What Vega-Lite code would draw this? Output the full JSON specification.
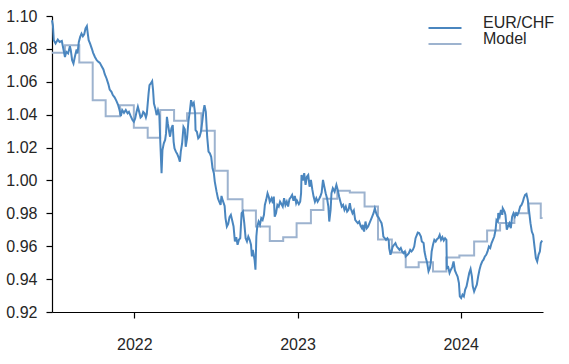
{
  "$schema": "https://vega.github.io/schema/vega-lite/v6.json",
  "width": 491,
  "height": 296,
  "autosize": {"type": "none"},
  "padding": {"left": 52, "top": 16, "right": 26, "bottom": 52},
  "background": "white",
  "config": {
    "view": {"stroke": null},
    "font": "Liberation Sans",
    "axis": {"grid": false, "domainColor": "#000", "tickColor": "#000", "labelColor": "#262626", "labelFont": "Liberation Sans", "labelFontSize": 16, "tickSize": 6, "domainWidth": 1.2, "tickWidth": 1.2, "title": null},
    "legend": {"labelFont": "Liberation Sans", "labelFontSize": 16, "labelColor": "#262626"}
  },
  "datasets": {
    "fx": [
{"d":"2021-07-01","v":1.0974},{"d":"2021-07-03","v":1.0944},{"d":"2021-07-05","v":1.0853},{"d":"2021-07-09","v":1.0833},{"d":"2021-07-14","v":1.0857},{"d":"2021-07-18","v":1.0842},{"d":"2021-07-23","v":1.0848},{"d":"2021-07-27","v":1.0792},{"d":"2021-07-30","v":1.0751},
{"d":"2021-08-02","v":1.0782},{"d":"2021-08-06","v":1.0772},{"d":"2021-08-10","v":1.0816},{"d":"2021-08-12","v":1.0792},{"d":"2021-08-15","v":1.0731},{"d":"2021-08-18","v":1.0711},{"d":"2021-08-21","v":1.0751},{"d":"2021-08-25","v":1.0796},{"d":"2021-08-27","v":1.0772},{"d":"2021-08-30","v":1.0842},
{"d":"2021-09-02","v":1.0873},{"d":"2021-09-05","v":1.0893},{"d":"2021-09-08","v":1.0877},{"d":"2021-09-11","v":1.0889},{"d":"2021-09-14","v":1.0924},{"d":"2021-09-17","v":1.0938},{"d":"2021-09-19","v":1.0893},{"d":"2021-09-21","v":1.0853},{"d":"2021-09-24","v":1.0833},{"d":"2021-09-28","v":1.0802},
{"d":"2021-10-01","v":1.0776},{"d":"2021-10-05","v":1.0751},{"d":"2021-10-09","v":1.0731},{"d":"2021-10-13","v":1.0721},{"d":"2021-10-16","v":1.0715},{"d":"2021-10-20","v":1.0695},{"d":"2021-10-24","v":1.0675},{"d":"2021-10-27","v":1.0646},{"d":"2021-10-31","v":1.0620},
{"d":"2021-11-04","v":1.0586},{"d":"2021-11-07","v":1.0553},{"d":"2021-11-11","v":1.0539},{"d":"2021-11-14","v":1.0519},{"d":"2021-11-18","v":1.0505},{"d":"2021-11-22","v":1.0484},{"d":"2021-11-26","v":1.0458},{"d":"2021-11-29","v":1.0428},
{"d":"2021-12-02","v":1.0391},{"d":"2021-12-05","v":1.0428},{"d":"2021-12-09","v":1.0411},{"d":"2021-12-13","v":1.0428},{"d":"2021-12-17","v":1.0408},{"d":"2021-12-20","v":1.0417},{"d":"2021-12-24","v":1.0391},{"d":"2021-12-28","v":1.0367},{"d":"2021-12-31","v":1.0357},
{"d":"2022-01-03","v":1.0377},{"d":"2022-01-06","v":1.0417},{"d":"2022-01-09","v":1.0448},{"d":"2022-01-12","v":1.0417},{"d":"2022-01-15","v":1.0383},{"d":"2022-01-18","v":1.0391},{"d":"2022-01-21","v":1.0417},{"d":"2022-01-24","v":1.0408},{"d":"2022-01-27","v":1.0383},{"d":"2022-01-29","v":1.0404},
{"d":"2022-02-02","v":1.0529},{"d":"2022-02-04","v":1.0580},{"d":"2022-02-07","v":1.0590},{"d":"2022-02-10","v":1.0604},{"d":"2022-02-12","v":1.0549},{"d":"2022-02-14","v":1.0468},{"d":"2022-02-17","v":1.0438},{"d":"2022-02-20","v":1.0397},{"d":"2022-02-23","v":1.0428},{"d":"2022-02-26","v":1.0397},{"d":"2022-02-28","v":1.0246},
{"d":"2022-03-03","v":1.0044},{"d":"2022-03-05","v":1.0185},{"d":"2022-03-08","v":1.0226},{"d":"2022-03-11","v":1.0246},{"d":"2022-03-13","v":1.0286},{"d":"2022-03-15","v":1.0387},{"d":"2022-03-17","v":1.0347},{"d":"2022-03-20","v":1.0296},{"d":"2022-03-22","v":1.0266},{"d":"2022-03-25","v":1.0317},{"d":"2022-03-28","v":1.0337},{"d":"2022-03-30","v":1.0235},
{"d":"2022-04-01","v":1.0195},{"d":"2022-04-04","v":1.0175},{"d":"2022-04-07","v":1.0161},{"d":"2022-04-10","v":1.0141},{"d":"2022-04-13","v":1.0114},{"d":"2022-04-15","v":1.0175},{"d":"2022-04-18","v":1.0226},{"d":"2022-04-21","v":1.0326},{"d":"2022-04-24","v":1.0311},{"d":"2022-04-26","v":1.0205},{"d":"2022-04-29","v":1.0256},
{"d":"2022-05-02","v":1.0357},{"d":"2022-05-05","v":1.0417},{"d":"2022-05-08","v":1.0488},{"d":"2022-05-11","v":1.0458},{"d":"2022-05-14","v":1.0472},{"d":"2022-05-17","v":1.0408},{"d":"2022-05-18","v":1.0306},{"d":"2022-05-21","v":1.0296},{"d":"2022-05-24","v":1.0256},{"d":"2022-05-27","v":1.0266},{"d":"2022-05-30","v":1.0296},
{"d":"2022-06-02","v":1.0357},{"d":"2022-06-05","v":1.0428},{"d":"2022-06-07","v":1.0458},{"d":"2022-06-10","v":1.0417},{"d":"2022-06-13","v":1.0266},{"d":"2022-06-16","v":1.0175},{"d":"2022-06-19","v":1.0165},{"d":"2022-06-22","v":1.0144},{"d":"2022-06-25","v":1.0074},{"d":"2022-06-28","v":1.0044},{"d":"2022-06-30","v":0.9993},
{"d":"2022-07-04","v":0.9932},{"d":"2022-07-07","v":0.9892},{"d":"2022-07-09","v":0.9877},{"d":"2022-07-13","v":0.9851},{"d":"2022-07-15","v":0.9906},{"d":"2022-07-18","v":0.9877},{"d":"2022-07-22","v":0.9845},{"d":"2022-07-24","v":0.9771},{"d":"2022-07-27","v":0.9720},{"d":"2022-07-30","v":0.9736},
{"d":"2022-08-02","v":0.9777},{"d":"2022-08-05","v":0.9791},{"d":"2022-08-08","v":0.9756},{"d":"2022-08-11","v":0.9720},{"d":"2022-08-14","v":0.9629},{"d":"2022-08-17","v":0.9655},{"d":"2022-08-20","v":0.9609},{"d":"2022-08-23","v":0.9639},{"d":"2022-08-26","v":0.9649},{"d":"2022-08-29","v":0.9801},
{"d":"2022-09-01","v":0.9811},{"d":"2022-09-04","v":0.9740},{"d":"2022-09-07","v":0.9649},{"d":"2022-09-10","v":0.9629},{"d":"2022-09-13","v":0.9659},{"d":"2022-09-16","v":0.9639},{"d":"2022-09-19","v":0.9609},{"d":"2022-09-21","v":0.9538},{"d":"2022-09-23","v":0.9578},{"d":"2022-09-27","v":0.9518},{"d":"2022-09-29","v":0.9457},
{"d":"2022-10-01","v":0.9659},{"d":"2022-10-03","v":0.9720},{"d":"2022-10-06","v":0.9750},{"d":"2022-10-09","v":0.9730},{"d":"2022-10-12","v":0.9771},{"d":"2022-10-15","v":0.9760},{"d":"2022-10-18","v":0.9791},{"d":"2022-10-20","v":0.9851},{"d":"2022-10-23","v":0.9882},{"d":"2022-10-26","v":0.9922},{"d":"2022-10-29","v":0.9898},{"d":"2022-10-31","v":0.9871},
{"d":"2022-11-04","v":0.9892},{"d":"2022-11-07","v":0.9862},{"d":"2022-11-09","v":0.9902},{"d":"2022-11-11","v":0.9780},{"d":"2022-11-14","v":0.9801},{"d":"2022-11-17","v":0.9851},{"d":"2022-11-20","v":0.9841},{"d":"2022-11-23","v":0.9871},{"d":"2022-11-26","v":0.9857},{"d":"2022-11-29","v":0.9841},
{"d":"2022-12-02","v":0.9892},{"d":"2022-12-05","v":0.9851},{"d":"2022-12-08","v":0.9871},{"d":"2022-12-11","v":0.9841},{"d":"2022-12-14","v":0.9886},{"d":"2022-12-17","v":0.9898},{"d":"2022-12-20","v":0.9912},{"d":"2022-12-23","v":0.9877},{"d":"2022-12-26","v":0.9906},{"d":"2022-12-29","v":0.9862},{"d":"2022-12-31","v":0.9877},
{"d":"2023-01-04","v":0.9856},{"d":"2023-01-07","v":0.9871},{"d":"2023-01-09","v":0.9922},{"d":"2023-01-10","v":1.0033},{"d":"2023-01-13","v":0.9999},{"d":"2023-01-16","v":1.0044},{"d":"2023-01-19","v":0.9973},{"d":"2023-01-22","v":1.0023},{"d":"2023-01-25","v":1.0033},{"d":"2023-01-28","v":0.9962},{"d":"2023-01-31","v":1.0003},
{"d":"2023-02-03","v":0.9947},{"d":"2023-02-06","v":0.9902},{"d":"2023-02-09","v":0.9871},{"d":"2023-02-12","v":0.9892},{"d":"2023-02-15","v":0.9871},{"d":"2023-02-18","v":0.9886},{"d":"2023-02-21","v":0.9902},{"d":"2023-02-24","v":0.9926},{"d":"2023-02-27","v":1.0003},
{"d":"2023-03-02","v":0.9962},{"d":"2023-03-05","v":0.9922},{"d":"2023-03-08","v":0.9892},{"d":"2023-03-11","v":0.9841},{"d":"2023-03-13","v":0.9750},{"d":"2023-03-16","v":0.9821},{"d":"2023-03-18","v":0.9922},{"d":"2023-03-21","v":0.9953},{"d":"2023-03-25","v":0.9932},{"d":"2023-03-29","v":0.9973},
{"d":"2023-04-01","v":0.9942},{"d":"2023-04-04","v":0.9902},{"d":"2023-04-07","v":0.9871},{"d":"2023-04-10","v":0.9841},{"d":"2023-04-13","v":0.9851},{"d":"2023-04-16","v":0.9821},{"d":"2023-04-19","v":0.9841},{"d":"2023-04-22","v":0.9811},{"d":"2023-04-25","v":0.9821},{"d":"2023-04-28","v":0.9862},{"d":"2023-04-30","v":0.9831},
{"d":"2023-05-04","v":0.9801},{"d":"2023-05-07","v":0.9817},{"d":"2023-05-10","v":0.9760},{"d":"2023-05-13","v":0.9750},{"d":"2023-05-16","v":0.9740},{"d":"2023-05-19","v":0.9750},{"d":"2023-05-22","v":0.9724},{"d":"2023-05-25","v":0.9710},{"d":"2023-05-27","v":0.9730},{"d":"2023-05-30","v":0.9689},
{"d":"2023-06-02","v":0.9750},{"d":"2023-06-05","v":0.9710},{"d":"2023-06-08","v":0.9720},{"d":"2023-06-11","v":0.9740},{"d":"2023-06-14","v":0.9760},{"d":"2023-06-17","v":0.9780},{"d":"2023-06-20","v":0.9801},{"d":"2023-06-23","v":0.9831},{"d":"2023-06-26","v":0.9801},{"d":"2023-06-29","v":0.9780},
{"d":"2023-07-01","v":0.9777},{"d":"2023-07-04","v":0.9760},{"d":"2023-07-08","v":0.9740},{"d":"2023-07-10","v":0.9710},{"d":"2023-07-12","v":0.9659},{"d":"2023-07-15","v":0.9649},{"d":"2023-07-18","v":0.9639},{"d":"2023-07-21","v":0.9649},{"d":"2023-07-24","v":0.9635},{"d":"2023-07-25","v":0.9589},{"d":"2023-07-28","v":0.9548},{"d":"2023-07-30","v":0.9568},
{"d":"2023-08-02","v":0.9598},{"d":"2023-08-05","v":0.9609},{"d":"2023-08-08","v":0.9619},{"d":"2023-08-11","v":0.9598},{"d":"2023-08-14","v":0.9589},{"d":"2023-08-17","v":0.9578},{"d":"2023-08-20","v":0.9589},{"d":"2023-08-23","v":0.9568},{"d":"2023-08-26","v":0.9558},{"d":"2023-08-29","v":0.9568},{"d":"2023-08-31","v":0.9538},
{"d":"2023-09-04","v":0.9548},{"d":"2023-09-07","v":0.9558},{"d":"2023-09-10","v":0.9578},{"d":"2023-09-13","v":0.9568},{"d":"2023-09-16","v":0.9578},{"d":"2023-09-19","v":0.9598},{"d":"2023-09-22","v":0.9649},{"d":"2023-09-25","v":0.9669},{"d":"2023-09-27","v":0.9683},{"d":"2023-09-30","v":0.9680},
{"d":"2023-10-04","v":0.9659},{"d":"2023-10-06","v":0.9629},{"d":"2023-10-10","v":0.9619},{"d":"2023-10-12","v":0.9568},{"d":"2023-10-15","v":0.9528},{"d":"2023-10-18","v":0.9498},{"d":"2023-10-21","v":0.9447},{"d":"2023-10-24","v":0.9467},{"d":"2023-10-26","v":0.9498},{"d":"2023-10-28","v":0.9568},{"d":"2023-10-31","v":0.9609},
{"d":"2023-11-03","v":0.9639},{"d":"2023-11-06","v":0.9629},{"d":"2023-11-09","v":0.9643},{"d":"2023-11-12","v":0.9649},{"d":"2023-11-15","v":0.9669},{"d":"2023-11-18","v":0.9639},{"d":"2023-11-21","v":0.9655},{"d":"2023-11-24","v":0.9635},{"d":"2023-11-27","v":0.9649},{"d":"2023-11-30","v":0.9639},
{"d":"2023-12-01","v":0.9467},{"d":"2023-12-04","v":0.9473},{"d":"2023-12-07","v":0.9437},{"d":"2023-12-10","v":0.9457},{"d":"2023-12-13","v":0.9473},{"d":"2023-12-16","v":0.9507},{"d":"2023-12-19","v":0.9453},{"d":"2023-12-22","v":0.9433},{"d":"2023-12-25","v":0.9416},{"d":"2023-12-28","v":0.9376},{"d":"2023-12-30","v":0.9295},
{"d":"2024-01-02","v":0.9285},{"d":"2024-01-05","v":0.9305},{"d":"2024-01-08","v":0.9295},{"d":"2024-01-11","v":0.9336},{"d":"2024-01-14","v":0.9356},{"d":"2024-01-17","v":0.9396},{"d":"2024-01-20","v":0.9437},{"d":"2024-01-23","v":0.9461},{"d":"2024-01-26","v":0.9416},{"d":"2024-01-28","v":0.9356},{"d":"2024-01-31","v":0.9325},
{"d":"2024-02-03","v":0.9346},{"d":"2024-02-06","v":0.9366},{"d":"2024-02-09","v":0.9416},{"d":"2024-02-12","v":0.9457},{"d":"2024-02-15","v":0.9487},{"d":"2024-02-18","v":0.9507},{"d":"2024-02-21","v":0.9518},{"d":"2024-02-24","v":0.9538},{"d":"2024-02-27","v":0.9548},
{"d":"2024-03-01","v":0.9568},{"d":"2024-03-04","v":0.9598},{"d":"2024-03-07","v":0.9589},{"d":"2024-03-10","v":0.9619},{"d":"2024-03-13","v":0.9639},{"d":"2024-03-16","v":0.9659},{"d":"2024-03-19","v":0.9700},{"d":"2024-03-21","v":0.9760},{"d":"2024-03-24","v":0.9750},{"d":"2024-03-25","v":0.9801},{"d":"2024-03-28","v":0.9780},{"d":"2024-03-31","v":0.9821},
{"d":"2024-04-03","v":0.9791},{"d":"2024-04-04","v":0.9831},{"d":"2024-04-08","v":0.9811},{"d":"2024-04-10","v":0.9791},{"d":"2024-04-13","v":0.9700},{"d":"2024-04-17","v":0.9730},{"d":"2024-04-19","v":0.9740},{"d":"2024-04-22","v":0.9710},{"d":"2024-04-25","v":0.9780},{"d":"2024-04-28","v":0.9801},
{"d":"2024-05-01","v":0.9780},{"d":"2024-05-04","v":0.9801},{"d":"2024-05-07","v":0.9791},{"d":"2024-05-10","v":0.9811},{"d":"2024-05-13","v":0.9841},{"d":"2024-05-16","v":0.9851},{"d":"2024-05-19","v":0.9871},{"d":"2024-05-21","v":0.9892},{"d":"2024-05-24","v":0.9912},{"d":"2024-05-27","v":0.9918},{"d":"2024-05-30","v":0.9882},
{"d":"2024-06-02","v":0.9811},{"d":"2024-06-05","v":0.9740},{"d":"2024-06-08","v":0.9689},{"d":"2024-06-11","v":0.9669},{"d":"2024-06-14","v":0.9598},{"d":"2024-06-17","v":0.9528},{"d":"2024-06-20","v":0.9507},{"d":"2024-06-23","v":0.9548},{"d":"2024-06-26","v":0.9568},{"d":"2024-06-28","v":0.9619},{"d":"2024-07-01","v":0.9635}
    ],
    "model": [
{"d":"2021-07-01","v":1.0776},{"d":"2021-07-30","v":1.0822},{"d":"2021-08-31","v":1.0717},{"d":"2021-09-30","v":1.0488},{"d":"2021-10-29","v":1.0391},{"d":"2021-11-30","v":1.0458},{"d":"2021-12-31","v":1.0320},
{"d":"2022-01-31","v":1.0260},{"d":"2022-02-28","v":1.0428},{"d":"2022-03-31","v":1.0363},{"d":"2022-04-29","v":1.0408},{"d":"2022-05-31","v":1.0302},{"d":"2022-06-30","v":1.0059},{"d":"2022-07-29","v":0.9886},{"d":"2022-08-31","v":0.9817},{"d":"2022-09-30","v":0.9720},{"d":"2022-10-31","v":0.9631},{"d":"2022-11-30","v":0.9655},{"d":"2022-12-30","v":0.9740},
{"d":"2023-01-31","v":0.9821},{"d":"2023-02-28","v":0.9888},{"d":"2023-03-31","v":0.9938},{"d":"2023-04-28","v":0.9926},{"d":"2023-05-31","v":0.9841},{"d":"2023-06-30","v":0.9641},{"d":"2023-07-31","v":0.9562},{"d":"2023-08-31","v":0.9472},{"d":"2023-09-29","v":0.9502},{"d":"2023-10-31","v":0.9447},{"d":"2023-11-30","v":0.9532},{"d":"2023-12-29","v":0.9543},
{"d":"2024-01-31","v":0.9629},{"d":"2024-02-29","v":0.9695},{"d":"2024-03-29","v":0.9741},{"d":"2024-04-30","v":0.9800},{"d":"2024-05-31","v":0.9860},{"d":"2024-06-28","v":0.9772},{"d":"2024-07-02","v":0.9772}
    ]
  },
  "encoding": {
    "x": {"field": "d", "type": "temporal",
      "scale": {"domain": [{"year": 2021, "month": 7, "date": 1}, {"year": 2024, "month": 7, "date": 3}], "nice": false},
      "axis": {"values": [{"year": 2022, "month": 1, "date": 1}, {"year": 2023, "month": 1, "date": 1}, {"year": 2024, "month": 1, "date": 1}], "format": "%Y", "labelPadding": 18, "labelFlush": false}},
    "y": {"field": "v", "type": "quantitative",
      "scale": {"domain": [0.92, 1.10], "nice": false, "zero": false},
      "axis": {"values": [0.92, 0.94, 0.96, 0.98, 1.0, 1.02, 1.04, 1.06, 1.08, 1.1], "format": ".2f", "labelPadding": 9}},
    "color": {"type": "nominal",
      "scale": {"domain": ["EUR/CHF", "Model"], "range": ["#4a86bf", "#9db3cf"]},
      "legend": {"title": null, "orient": "none", "legendX": 385, "legendY": 4, "padding": 0,
        "symbolType": "M-3,0H3", "symbolSize": 121, "symbolStrokeWidth": 2, "symbolFillColor": "transparent",
        "labelOffset": 30, "labelBaseline": "alphabetic", "rowPadding": -1}}
  },
  "layer": [
    {"data": {"name": "model"},
     "mark": {"type": "line", "interpolate": "step-after", "strokeWidth": 2},
     "encoding": {"color": {"datum": "Model"}}},
    {"data": {"name": "fx"},
     "mark": {"type": "line", "strokeWidth": 2},
     "encoding": {"color": {"datum": "EUR/CHF"}}}
  ]
}
